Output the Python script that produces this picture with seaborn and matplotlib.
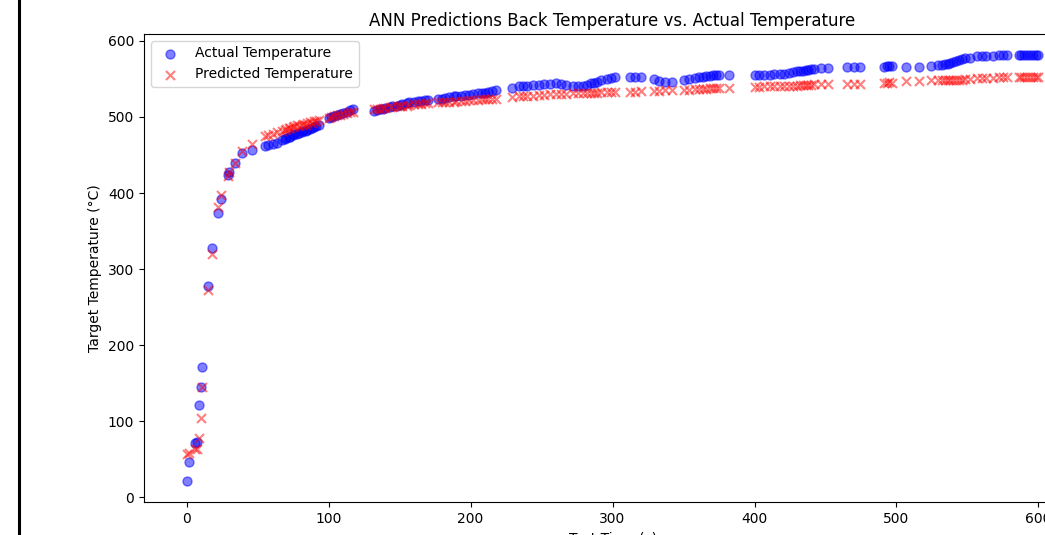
import seaborn as sns
import pandas as pd
import matplotlib.pyplot as plt
from matplotlib.lines import Line2D

# test times (s) with actual and ANN-predicted back temperature (°C)
test_time = [0, 2, 6, 7, 9, 10, 11, 15, 18, 22, 24, 29, 30, 34, 39, 46, 55, 57, 61, 64,
             67, 69, 70, 72, 73, 75, 76, 78, 79, 81, 82, 84, 85, 87, 88, 90, 91, 93,
             100, 102, 104, 106, 108, 110, 113, 115, 117,
             132, 134, 136, 138, 140, 143, 145, 148, 150, 152, 155, 157, 160, 163, 165, 168, 170,
             177, 180, 182, 185, 188, 190, 193, 196, 199, 202, 205, 208, 210, 212, 215, 218,
             229, 234, 237, 240, 244, 248, 252, 256, 260,
             264, 267, 272, 276, 279, 282, 285, 287, 289, 292, 296, 299, 302,
             312, 316, 320, 329, 333, 337, 342,
             350, 354, 358, 361, 364, 366, 369, 371, 373, 375, 382,
             400, 403, 407, 411, 414, 418, 421, 424, 427, 430, 432, 434, 436, 438, 440, 442, 447, 452,
             465, 470, 474,
             491, 493, 495, 497,
             507, 516, 524, 529, 532, 534, 536, 538, 540, 542, 544, 546, 548, 552, 557, 560, 563,
             568, 572, 575, 578, 586, 588, 590, 592, 594, 596, 598, 600]

actual_temp = [22, 46, 71, 73, 121, 145, 171, 278, 328, 374, 392, 424, 428, 439, 452, 457, 462, 463, 465, 466,
               470, 471, 472, 473, 474, 476, 477, 478, 479, 480, 481, 482, 483, 484, 485, 487, 488, 490,
               499, 500, 501, 502, 504, 505, 507, 509, 510,
               508, 509, 510, 511, 512, 513, 514, 515, 516, 517, 518, 519, 520, 521, 521, 522, 522,
               523, 524, 525, 526, 527, 527, 528, 529, 529, 530, 531, 531, 532, 533, 534, 535,
               538, 540, 541, 541, 542, 542, 543, 543, 544,
               543, 542, 540, 540, 541, 542, 544, 545, 546, 548, 550, 551, 552,
               552, 552, 552, 550, 547, 546, 546,
               548, 550, 551, 552, 553, 554, 554, 555, 555, 555, 555,
               555, 555, 555, 555, 556, 556, 557, 558, 559, 560, 561, 561, 562, 562, 563, 563, 564, 564,
               566, 565, 565,
               566, 567, 567, 567,
               565, 565, 567, 568, 568, 569, 570, 571, 572, 573, 575, 576, 577, 578, 580, 580, 580,
               580, 581, 581, 581, 581, 581, 581, 581, 581, 581, 581, 581]

predicted_temp = [57, 58, 63, 64, 78, 105, 145, 272, 320, 382, 397, 422, 428, 439, 455, 464, 475, 476, 478, 480,
                  482, 483, 484, 486, 485, 487, 488, 489, 488, 490, 491, 490, 492, 493, 492, 494, 495, 496,
                  498, 500, 501, 502, 503, 504, 505, 506, 507,
                  510, 511, 511, 512, 512, 513, 513, 514, 514, 515, 515, 516, 517, 517, 517, 518, 518,
                  519, 519, 520, 520, 520, 521, 521, 521, 522, 522, 522, 523, 523, 523, 524, 524,
                  526, 527, 527, 528, 528, 529, 529, 530, 530,
                  530, 530, 531, 531, 531, 532, 532, 532, 532, 533, 533, 533, 533,
                  533, 533, 534, 534, 534, 535, 535,
                  536, 536, 537, 537, 537, 537, 538, 538, 538, 538, 538,
                  539, 539, 540, 540, 540, 540, 541, 541, 541, 541, 542, 542, 542, 542, 542, 543, 543, 543,
                  543, 543, 543,
                  545, 545, 546, 545,
                  547, 547, 548, 548, 548, 549, 549, 549, 549, 549, 549, 549, 550, 550, 551, 551, 551,
                  551, 552, 552, 552, 553, 553, 553, 553, 553, 553, 553, 553]

df = pd.DataFrame({'time': test_time, 'actual': actual_temp, 'predicted': predicted_temp})

fig = plt.figure(figsize=(10.45, 5.35), dpi=100)
ax = fig.add_axes([0.1378, 0.0617, 0.8967, 0.8748])

sns.scatterplot(data=df, x='time', y='actual', color='blue', edgecolor='blue', linewidth=1.0,
                alpha=0.5, s=42, label='Actual Temperature', ax=ax)
sns.scatterplot(data=df, x='time', y='predicted', color='red', marker='x', linewidth=1.5,
                alpha=0.5, s=42, label='Predicted Temperature', ax=ax)

ax.set_xlim(-30, 630)
ax.set_ylim(-6, 609)
ax.set_xticks([0, 100, 200, 300, 400, 500, 600])
ax.set_yticks([0, 100, 200, 300, 400, 500, 600])
ax.set_title('ANN Predictions Back Temperature vs. Actual Temperature')
ax.set_xlabel('Test Time (s)')
ax.set_ylabel('Target Temperature (°C)')
ax.legend(loc='upper left')

# dark frame edge on the left of the screenshot
fig.add_artist(Line2D([0.0182, 0.0182], [0, 1], color='black', linewidth=2.2))

fig.savefig('out.png', dpi=100)
